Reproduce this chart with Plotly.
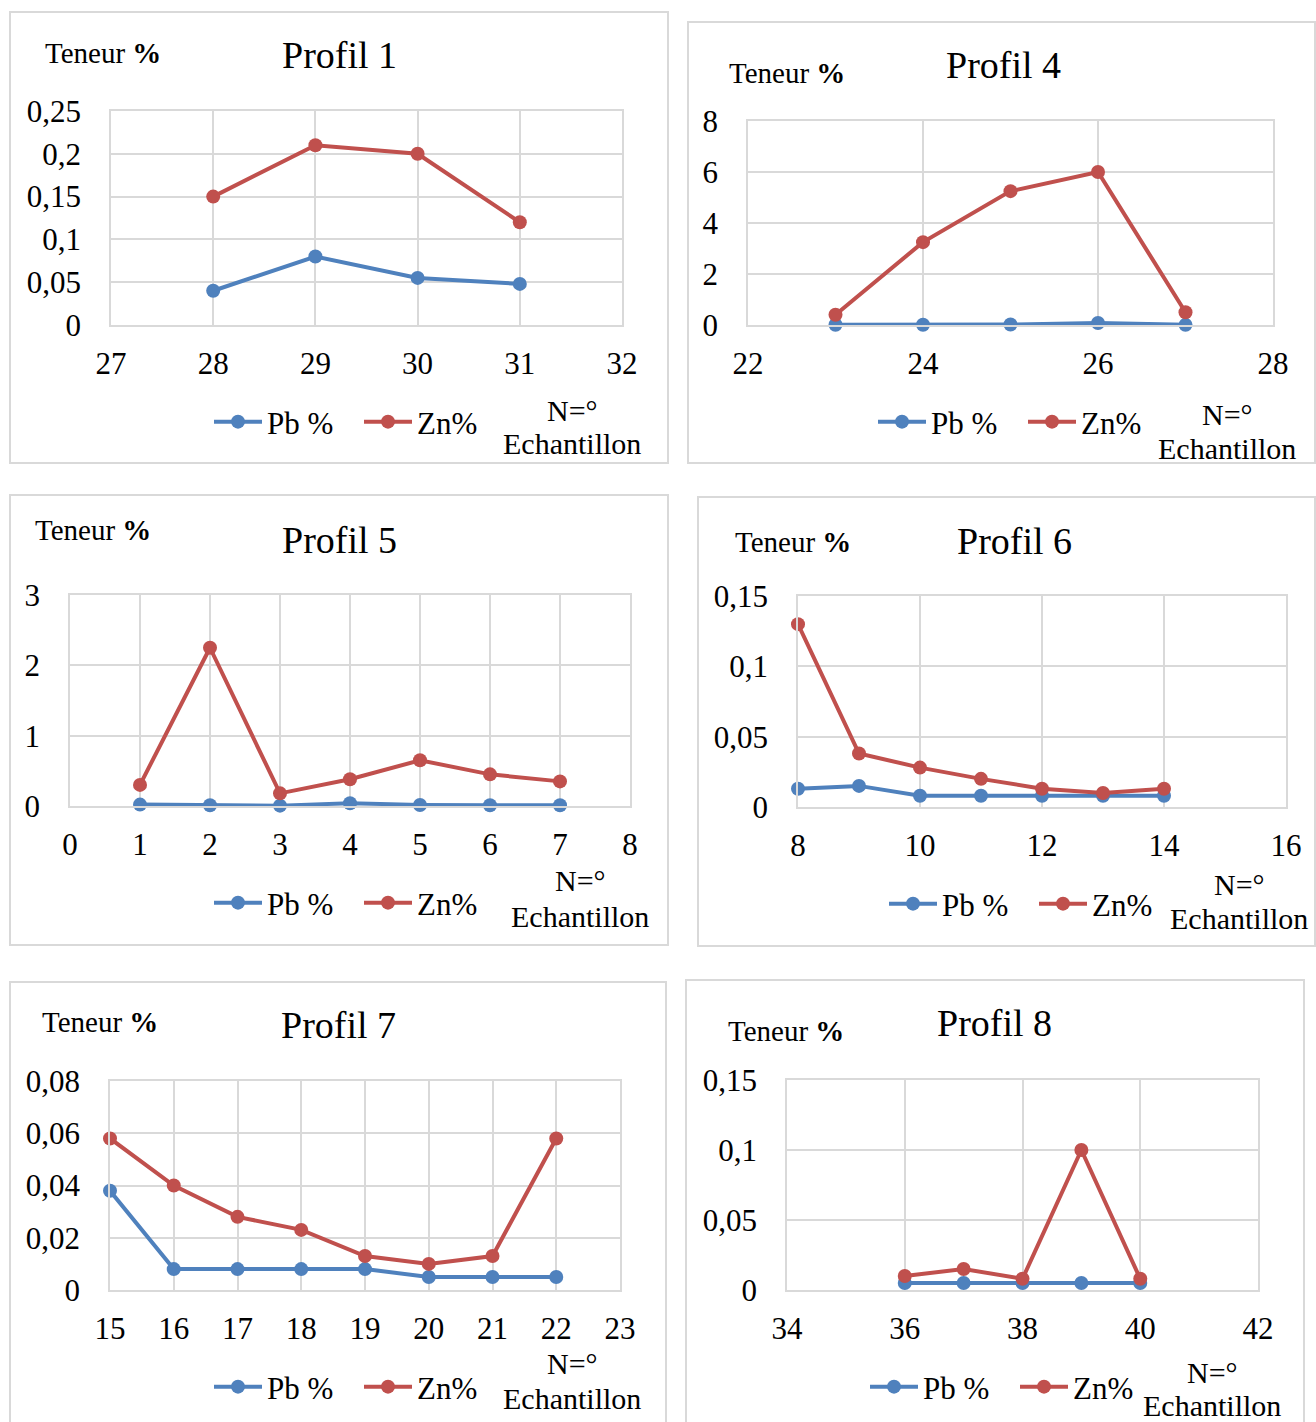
import plotly.graph_objects as go

W, H = 1316, 1422

# ---------------- data ----------------
p1_x = [28, 29, 30, 31]
p1_pb = [0.04, 0.08, 0.055, 0.048]
p1_zn = [0.15, 0.21, 0.20, 0.12]
p1_xticks = [27, 28, 29, 30, 31, 32]
p1_yticks = [0, 0.05, 0.1, 0.15, 0.2, 0.25]
p1_ytext = ["0", "0,05", "0,1", "0,15", "0,2", "0,25"]

p4_x = [23, 24, 25, 26, 27]
p4_pb = [0.01, 0.01, 0.02, 0.08, 0.005]
p4_zn = [0.4, 3.25, 5.25, 6.0, 0.5]
p4_xticks = [22, 24, 26, 28]
p4_yticks = [0, 2, 4, 6, 8]
p4_ytext = ["0", "2", "4", "6", "8"]

p5_x = [1, 2, 3, 4, 5, 6, 7]
p5_pb = [0.02, 0.01, 0.005, 0.04, 0.015, 0.01, 0.01]
p5_zn = [0.3, 2.25, 0.18, 0.38, 0.65, 0.45, 0.35]
p5_xticks = [0, 1, 2, 3, 4, 5, 6, 7, 8]
p5_yticks = [0, 1, 2, 3]
p5_ytext = ["0", "1", "2", "3"]

p6_x = [8, 9, 10, 11, 12, 13, 14]
p6_pb = [0.013, 0.015, 0.008, 0.008, 0.008, 0.008, 0.008]
p6_zn = [0.13, 0.038, 0.028, 0.02, 0.013, 0.01, 0.013]
p6_xticks = [8, 10, 12, 14, 16]
p6_yticks = [0, 0.05, 0.1, 0.15]
p6_ytext = ["0", "0,05", "0,1", "0,15"]

p7_x = [15, 16, 17, 18, 19, 20, 21, 22]
p7_pb = [0.038, 0.008, 0.008, 0.008, 0.008, 0.005, 0.005, 0.005]
p7_zn = [0.058, 0.04, 0.028, 0.023, 0.013, 0.01, 0.013, 0.058]
p7_xticks = [15, 16, 17, 18, 19, 20, 21, 22, 23]
p7_yticks = [0, 0.02, 0.04, 0.06, 0.08]
p7_ytext = ["0", "0,02", "0,04", "0,06", "0,08"]

p8_x = [36, 37, 38, 39, 40]
p8_pb = [0.005, 0.005, 0.005, 0.005, 0.005]
p8_zn = [0.01, 0.015, 0.008, 0.1, 0.008]
p8_xticks = [34, 36, 38, 40, 42]
p8_yticks = [0, 0.05, 0.1, 0.15]
p8_ytext = ["0", "0,05", "0,1", "0,15"]

titles = ["Profil 1", "Profil 4", "Profil 5", "Profil 6", "Profil 7", "Profil 8"]
series_names = ["Pb %", "Zn%"]
ylabel = "Teneur <b>%</b>"
xlabel_lines = ["N=°", "Echantillon"]

# ---------------- layout geometry (pixels) ----------------
panels = [
    dict(x=p1_x, pb=p1_pb, zn=p1_zn, xt=p1_xticks, yt=p1_yticks, ytt=p1_ytext,
         box=(10, 12, 668, 463), plot=(111, 111, 622, 325), title=(339, 55),
         ten=(43, 53), leg=(209, 422), nlab=(572, 410, 444)),
    dict(x=p4_x, pb=p4_pb, zn=p4_zn, xt=p4_xticks, yt=p4_yticks, ytt=p4_ytext,
         box=(688, 22, 1315, 463), plot=(748, 121, 1273, 325), title=(1003, 65),
         ten=(727, 73), leg=(873, 422), nlab=(1227, 414, 448)),
    dict(x=p5_x, pb=p5_pb, zn=p5_zn, xt=p5_xticks, yt=p5_yticks, ytt=p5_ytext,
         box=(10, 495, 668, 945), plot=(70, 595, 630, 806), title=(339, 540),
         ten=(33, 530), leg=(209, 903), nlab=(580, 881, 916)),
    dict(x=p6_x, pb=p6_pb, zn=p6_zn, xt=p6_xticks, yt=p6_yticks, ytt=p6_ytext,
         box=(698, 497, 1315, 946), plot=(798, 596, 1286, 807), title=(1014, 541),
         ten=(733, 542), leg=(884, 904), nlab=(1239, 884, 918)),
    dict(x=p7_x, pb=p7_pb, zn=p7_zn, xt=p7_xticks, yt=p7_yticks, ytt=p7_ytext,
         box=(10, 982, 666, 1440), plot=(110, 1081, 620, 1290), title=(338, 1025),
         ten=(40, 1022), leg=(209, 1387), nlab=(572, 1363, 1398)),
    dict(x=p8_x, pb=p8_pb, zn=p8_zn, xt=p8_xticks, yt=p8_yticks, ytt=p8_ytext,
         box=(686, 980, 1304, 1440), plot=(787, 1080, 1258, 1290), title=(995, 1023),
         ten=(726, 1031), leg=(865, 1387), nlab=(1212, 1372, 1405)),
]

FONT = "Liberation Serif, Times New Roman, serif"
BLUE = "#4F81BD"
RED = "#C0504D"
GRID = "#D9D9D9"


def px(x):
    return x / W


def py(y):
    return 1 - y / H


fig = go.Figure()
shapes = []
annotations = []

for i, p in enumerate(panels):
    n = i + 1
    sfx = "" if n == 1 else str(n)
    legname = "legend" if n == 1 else f"legend{n}"
    for name, vals, col in [(series_names[0], p["pb"], BLUE), (series_names[1], p["zn"], RED)]:
        fig.add_trace(go.Scatter(
            x=p["x"], y=vals, name=name, mode="lines+markers",
            line=dict(color=col, width=4),
            marker=dict(color=col, size=14),
            cliponaxis=False,
            xaxis=f"x{sfx}", yaxis=f"y{sfx}", legend=legname,
        ))
    x0, y0, x1, y1 = p["plot"]
    xt = p["xt"]
    yt = p["yt"]
    fig.layout[f"xaxis{sfx}"] = dict(
        domain=[px(x0), px(x1)], anchor=f"y{sfx}",
        range=[xt[0], xt[-1]], tickvals=xt, ticktext=[str(v) for v in xt],
        showgrid=True, gridcolor=GRID, gridwidth=1.5,
        showline=True, linecolor=GRID, linewidth=1.5, mirror=True,
        zeroline=False, ticks="outside", ticklen=10, tickcolor="rgba(0,0,0,0)",
        tickfont=dict(family=FONT, size=31, color="black"),
    )
    fig.layout[f"yaxis{sfx}"] = dict(
        domain=[py(y1), py(y0)], anchor=f"x{sfx}",
        range=[yt[0], yt[-1]], tickvals=yt, ticktext=p["ytt"],
        showgrid=True, gridcolor=GRID, gridwidth=1.5,
        showline=True, linecolor=GRID, linewidth=1.5, mirror=True,
        zeroline=False, ticks="outside", ticklen=22, tickcolor="rgba(0,0,0,0)",
        tickfont=dict(family=FONT, size=31, color="black"),
    )
    lx, ly = p["leg"]
    fig.layout[legname] = dict(
        x=px(lx), y=py(ly), xanchor="left", yanchor="middle",
        orientation="h", bgcolor="rgba(0,0,0,0)",
        font=dict(family=FONT, size=31, color="black"),
        itemwidth=48, entrywidth=87, entrywidthmode="pixels",
    )
    bx0, by0, bx1, by1 = p["box"]
    shapes.append(dict(type="rect", xref="paper", yref="paper",
                       x0=px(bx0), x1=px(bx1), y0=py(by1), y1=py(by0),
                       line=dict(color=GRID, width=2), layer="below"))
    tx, ty = p["title"]
    annotations.append(dict(text=titles[i], x=px(tx), y=py(ty), xref="paper", yref="paper",
                            xanchor="center", yanchor="middle", showarrow=False,
                            font=dict(family=FONT, size=38, color="black")))
    ex, ey = p["ten"]
    annotations.append(dict(text=ylabel, x=px(ex), y=py(ey), xref="paper", yref="paper",
                            xanchor="left", yanchor="middle", showarrow=False,
                            font=dict(family=FONT, size=29, color="black")))
    nx, ny1, ny2 = p["nlab"]
    for txt, yy in zip(xlabel_lines, (ny1, ny2)):
        annotations.append(dict(text=txt, x=px(nx), y=py(yy), xref="paper", yref="paper",
                                xanchor="center", yanchor="middle", showarrow=False,
                                font=dict(family=FONT, size=30, color="black")))

fig.update_layout(
    width=W, height=H, autosize=False,
    margin=dict(l=0, r=0, t=0, b=0, pad=0, autoexpand=False),
    paper_bgcolor="white", plot_bgcolor="white",
    shapes=shapes, annotations=annotations,
    showlegend=True,
)

fig.write_html("out.html", post_script="document.body.style.margin='0';",
               config={"displayModeBar": False})
